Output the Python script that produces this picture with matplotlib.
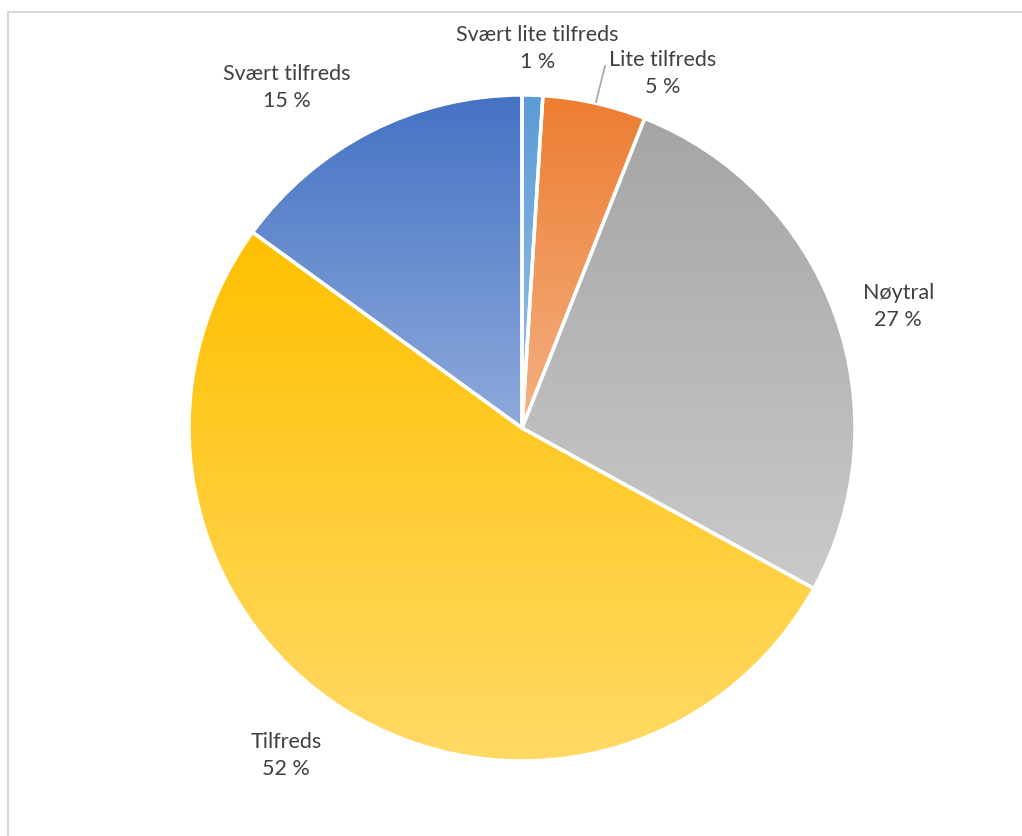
import numpy as np
import matplotlib
matplotlib.use("Agg")
import matplotlib.pyplot as plt
from matplotlib.colors import LinearSegmentedColormap
from matplotlib.patches import Rectangle

labels = ["Svært lite tilfreds", "Lite tilfreds", "Nøytral", "Tilfreds", "Svært tilfreds"]
values = [1, 5, 27, 52, 15]
top_colors = ["#5B9BD5", "#ED7D31", "#A5A5A5", "#FFC000", "#4472C4"]
bottom_colors = ["#9DC3E6", "#F4B183", "#CACACA", "#FFDA66", "#8FAADC"]

# label anchors (axes fraction) for the data labels
label_pos = [(0.526, 0.942), (0.648, 0.912), (0.879, 0.633), (0.280, 0.096), (0.281, 0.895)]

plt.rcParams['font.family'] = ['Lato', 'DejaVu Sans']

fig = plt.figure(figsize=(10.22, 8.36), dpi=100)
ax = fig.add_axes([0, 0, 1, 1])

r_px = 333.0
cx, cy = 522.0, 428.0
ax.set_xlim(-cx / r_px, (1022 - cx) / r_px)
ax.set_ylim(-(836 - cy) / r_px, cy / r_px)
ax.set_aspect('equal')
ax.axis('off')

wedges, _ = ax.pie(values, startangle=90, counterclock=False, radius=1,
                   wedgeprops=dict(edgecolor='white', linewidth=2.5))

# vertical gradient inside each slice, dark at top, light at bottom
grad = np.linspace(0, 1, 256).reshape(-1, 1)
for w, c0, c1 in zip(wedges, top_colors, bottom_colors):
    w.set_facecolor('none')
    cmap = LinearSegmentedColormap.from_list('g', [c0, c1])
    verts = w.get_path().vertices
    x0, x1 = verts[:, 0].min(), verts[:, 0].max()
    y0, y1 = verts[:, 1].min(), verts[:, 1].max()
    im = ax.imshow(grad, cmap=cmap, extent=(x0, x1, y0, y1), origin='upper',
                   aspect='auto', zorder=1, interpolation='bilinear')
    im.set_clip_path(w)
    w.set_zorder(2)

ax.set_xlim(-cx / r_px, (1022 - cx) / r_px)
ax.set_ylim(-(836 - cy) / r_px, cy / r_px)

for lab, v, (lx, ly) in zip(labels, values, label_pos):
    ax.text(lx, ly, f"{lab}\n{v} %", transform=ax.transAxes, ha='center', va='center',
            fontsize=15.5, color='#404040', linespacing=1.45)

# leader line for the small orange slice
ax.plot([(596 - cx) / r_px, (605 - cx) / r_px], [(cy - 102) / r_px, (cy - 66) / r_px],
        color='#A6A6A6', lw=1.2, zorder=3)

# chart area border
fig.patches.append(Rectangle((8 / 1022, -0.1), 1.2, (836 - 12) / 836 + 0.1,
                             transform=fig.transFigure, fill=False,
                             edgecolor='#D9D9D9', lw=1.5))

fig.savefig("out.png", dpi=100, facecolor='white')
